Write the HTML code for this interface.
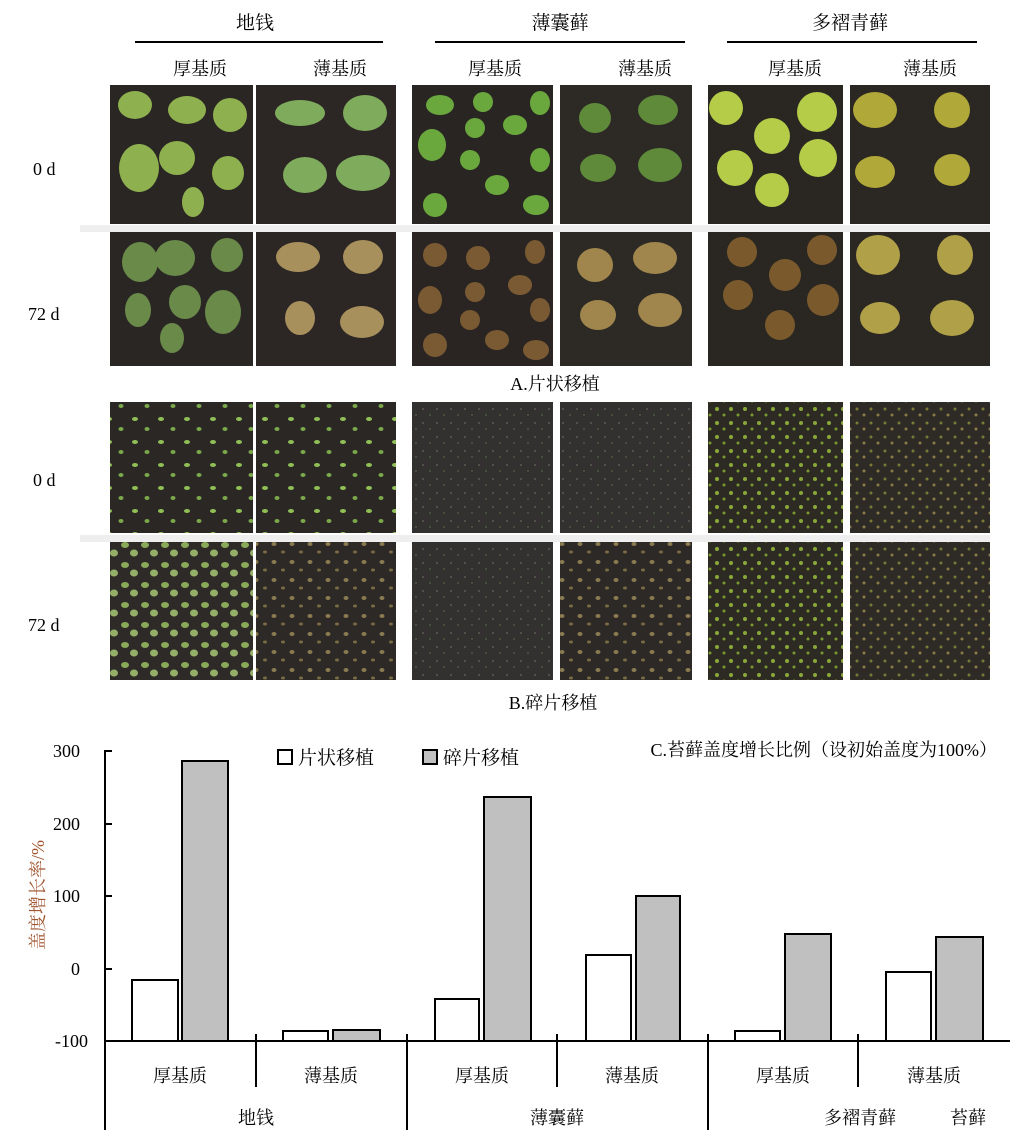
<!DOCTYPE html>
<html><head><meta charset="utf-8"><style>
body{margin:0;background:#fff;width:1030px;height:1141px;overflow:hidden;font-family:"Liberation Serif","Noto Serif CJK SC","Noto Sans CJK SC",serif;}
</style></head><body>
<svg width="1030" height="1141" viewBox="0 0 1030 1141" xmlns="http://www.w3.org/2000/svg" font-family="Liberation Serif, Noto Serif CJK SC, Noto Sans CJK SC, serif">
<defs>
<pattern id="fg" width="26" height="23" patternUnits="userSpaceOnUse">
<rect width="26" height="23" fill="#2b2725"/>
<ellipse cx="5" cy="5" rx="3" ry="2" fill="#8fbf55"/><ellipse cx="17" cy="15" rx="2.5" ry="2" fill="#7aa84a"/></pattern>
<pattern id="fg2" width="20" height="20" patternUnits="userSpaceOnUse">
<rect width="20" height="20" fill="#2e2a28"/>
<ellipse cx="5" cy="5" rx="4" ry="3" fill="#8aaa5a"/><ellipse cx="14" cy="13" rx="4" ry="3.5" fill="#94b068"/></pattern>
<pattern id="fb" width="18" height="18" patternUnits="userSpaceOnUse">
<rect width="18" height="18" fill="#2d2926"/>
<ellipse cx="4" cy="4" rx="2.5" ry="2" fill="#8a7a50"/><ellipse cx="13" cy="12" rx="2" ry="1.5" fill="#7a6a44"/></pattern>
<pattern id="fs" width="14" height="14" patternUnits="userSpaceOnUse">
<rect width="14" height="14" fill="#333030"/>
<circle cx="3" cy="3" r="1" fill="#5a5a55"/><circle cx="10" cy="9" r="1" fill="#4a5a40"/></pattern>
<pattern id="fy" width="14" height="14" patternUnits="userSpaceOnUse">
<rect width="14" height="14" fill="#2c2a22"/>
<circle cx="3" cy="3" r="2" fill="#8aa83a"/><circle cx="10" cy="9" r="1.5" fill="#7a9a30"/></pattern>
<pattern id="fy2" width="14" height="14" patternUnits="userSpaceOnUse">
<rect width="14" height="14" fill="#2e2a26"/>
<circle cx="3" cy="3" r="1.5" fill="#7a7a38"/><circle cx="10" cy="9" r="1.5" fill="#8a7a48"/></pattern>
</defs>
<g font-size="19" text-anchor="middle" fill="#000">
<text x="255" y="29">地钱</text><text x="560" y="29">薄囊藓</text><text x="850" y="29">多褶青藓</text>
</g>
<g stroke="#000" stroke-width="2"><line x1="135" y1="42" x2="383" y2="42"/><line x1="435" y1="42" x2="685" y2="42"/><line x1="727" y1="42" x2="977" y2="42"/></g>
<g font-size="18" text-anchor="middle">
<text x="200" y="75">厚基质</text><text x="340" y="75">薄基质</text><text x="495" y="75">厚基质</text><text x="645" y="75">薄基质</text><text x="795" y="75">厚基质</text><text x="930" y="75">薄基质</text>
</g>
<rect x="80" y="225" width="910" height="7" fill="#eeeeee"/>
<rect x="80" y="535" width="910" height="7" fill="#eeeeee"/>
<g>
<rect x="110" y="85" width="143" height="139" fill="#2a2624"/>
<g fill="#8fb04e"><ellipse cx="135" cy="105" rx="17" ry="14"/><ellipse cx="187" cy="110" rx="19" ry="14"/><ellipse cx="230" cy="115" rx="17" ry="17"/><ellipse cx="139" cy="168" rx="20" ry="24"/><ellipse cx="177" cy="158" rx="18" ry="17"/><ellipse cx="228" cy="173" rx="16" ry="17"/><ellipse cx="193" cy="202" rx="11" ry="15"/></g>
<rect x="256" y="85" width="140" height="139" fill="#2c2724"/>
<g fill="#7fac5c"><ellipse cx="300" cy="113" rx="25" ry="13"/><ellipse cx="365" cy="113" rx="22" ry="18"/><ellipse cx="305" cy="175" rx="22" ry="18"/><ellipse cx="363" cy="173" rx="27" ry="18"/></g>
<rect x="412" y="85" width="141" height="139" fill="#292522"/>
<g fill="#6aa83e"><ellipse cx="440" cy="105" rx="14" ry="10"/><ellipse cx="483" cy="102" rx="10" ry="10"/><ellipse cx="540" cy="103" rx="10" ry="12"/><ellipse cx="432" cy="145" rx="14" ry="16"/><ellipse cx="475" cy="128" rx="10" ry="10"/><ellipse cx="515" cy="125" rx="12" ry="10"/><ellipse cx="470" cy="160" rx="10" ry="10"/><ellipse cx="540" cy="160" rx="10" ry="12"/><ellipse cx="435" cy="205" rx="12" ry="12"/><ellipse cx="497" cy="185" rx="12" ry="10"/><ellipse cx="536" cy="205" rx="13" ry="10"/></g>
<rect x="560" y="85" width="132" height="139" fill="#2d2a26"/>
<g fill="#5e8a3a"><ellipse cx="595" cy="118" rx="16" ry="15"/><ellipse cx="658" cy="110" rx="20" ry="15"/><ellipse cx="598" cy="168" rx="18" ry="14"/><ellipse cx="660" cy="165" rx="22" ry="17"/></g>
<rect x="708" y="85" width="135" height="139" fill="#2a2622"/>
<g fill="#b4cc48"><circle cx="726" cy="108" r="17"/><circle cx="772" cy="136" r="18"/><circle cx="817" cy="112" r="20"/><circle cx="735" cy="168" r="18"/><circle cx="818" cy="158" r="19"/><circle cx="772" cy="190" r="17"/></g>
<rect x="850" y="85" width="140" height="139" fill="#2b2722"/>
<g fill="#b0a838"><ellipse cx="875" cy="110" rx="22" ry="18"/><ellipse cx="952" cy="110" rx="18" ry="18"/><ellipse cx="875" cy="172" rx="20" ry="16"/><ellipse cx="952" cy="170" rx="18" ry="16"/></g>
</g>
<g>
<rect x="110" y="232" width="143" height="134" fill="#2a2624"/>
<g fill="#6a8a4a"><ellipse cx="140" cy="262" rx="18" ry="20"/><ellipse cx="175" cy="258" rx="20" ry="18"/><ellipse cx="227" cy="255" rx="16" ry="17"/><ellipse cx="138" cy="310" rx="13" ry="17"/><ellipse cx="185" cy="302" rx="16" ry="17"/><ellipse cx="223" cy="312" rx="18" ry="22"/><ellipse cx="172" cy="338" rx="12" ry="15"/></g>
<rect x="256" y="232" width="140" height="134" fill="#2c2724"/>
<g fill="#a8905c"><ellipse cx="298" cy="257" rx="22" ry="15"/><ellipse cx="363" cy="257" rx="20" ry="17"/><ellipse cx="300" cy="318" rx="15" ry="17"/><ellipse cx="362" cy="322" rx="22" ry="16"/></g>
<rect x="412" y="232" width="141" height="134" fill="#2a2522"/>
<g fill="#7a5a32"><ellipse cx="435" cy="255" rx="12" ry="12"/><ellipse cx="478" cy="258" rx="12" ry="12"/><ellipse cx="535" cy="252" rx="10" ry="12"/><ellipse cx="430" cy="300" rx="12" ry="14"/><ellipse cx="475" cy="292" rx="10" ry="10"/><ellipse cx="520" cy="285" rx="12" ry="10"/><ellipse cx="470" cy="320" rx="10" ry="10"/><ellipse cx="540" cy="310" rx="10" ry="12"/><ellipse cx="435" cy="345" rx="12" ry="12"/><ellipse cx="497" cy="340" rx="12" ry="10"/><ellipse cx="536" cy="350" rx="13" ry="10"/></g>
<rect x="560" y="232" width="132" height="134" fill="#2d2a26"/>
<g fill="#a0864c"><ellipse cx="595" cy="265" rx="18" ry="17"/><ellipse cx="655" cy="258" rx="22" ry="16"/><ellipse cx="598" cy="315" rx="18" ry="15"/><ellipse cx="660" cy="310" rx="22" ry="17"/></g>
<rect x="708" y="232" width="135" height="134" fill="#2a2622"/>
<g fill="#7a5a2c"><circle cx="742" cy="252" r="15"/><circle cx="785" cy="275" r="16"/><circle cx="822" cy="250" r="15"/><circle cx="738" cy="295" r="15"/><circle cx="823" cy="300" r="16"/><circle cx="780" cy="325" r="15"/></g>
<rect x="850" y="232" width="140" height="134" fill="#2b2722"/>
<g fill="#b0a048"><ellipse cx="878" cy="255" rx="22" ry="20"/><ellipse cx="955" cy="255" rx="18" ry="20"/><ellipse cx="880" cy="318" rx="20" ry="16"/><ellipse cx="952" cy="318" rx="22" ry="18"/></g>
</g>
<text x="555" y="390" font-size="18" text-anchor="middle">A.片状移植</text>
<rect x="110" y="402" width="143" height="131" fill="url(#fg)"/>
<rect x="256" y="402" width="140" height="131" fill="url(#fg)"/>
<rect x="412" y="402" width="141" height="131" fill="url(#fs)"/>
<rect x="560" y="402" width="132" height="131" fill="url(#fs)"/>
<rect x="708" y="402" width="135" height="131" fill="url(#fy)"/>
<rect x="850" y="402" width="140" height="131" fill="url(#fy2)"/>
<rect x="110" y="542" width="143" height="138" fill="url(#fg2)"/>
<rect x="256" y="542" width="140" height="138" fill="url(#fb)"/>
<rect x="412" y="542" width="141" height="138" fill="url(#fs)"/>
<rect x="560" y="542" width="132" height="138" fill="url(#fb)"/>
<rect x="708" y="542" width="135" height="138" fill="url(#fy)"/>
<rect x="850" y="542" width="140" height="138" fill="url(#fy2)"/>
<g font-size="18">
<text x="33" y="175">0 d</text><text x="28" y="320">72 d</text><text x="33" y="486">0 d</text><text x="28" y="631">72 d</text>
</g>
<text x="553" y="709" font-size="18" text-anchor="middle">B.碎片移植</text>
<g stroke="#000" stroke-width="2" fill="none">
<line x1="105" y1="750" x2="105" y2="1130"/>
<line x1="105" y1="1041" x2="1010" y2="1041"/>
<line x1="105" y1="751" x2="112" y2="751"/><line x1="105" y1="824" x2="112" y2="824"/><line x1="105" y1="896" x2="112" y2="896"/><line x1="105" y1="969" x2="112" y2="969"/>
<line x1="256" y1="1034" x2="256" y2="1087"/><line x1="407" y1="1034" x2="407" y2="1130"/><line x1="557" y1="1034" x2="557" y2="1087"/><line x1="708" y1="1034" x2="708" y2="1130"/><line x1="858" y1="1034" x2="858" y2="1087"/>
</g>
<g stroke="#000" stroke-width="2">
<rect x="132" y="980" width="46" height="61" fill="#fff"/><rect x="182" y="761" width="46" height="280" fill="#c0c0c0"/>
<rect x="283" y="1031" width="45" height="10" fill="#fff"/><rect x="333" y="1030" width="47" height="11" fill="#c0c0c0"/>
<rect x="435" y="999" width="44" height="42" fill="#fff"/><rect x="484" y="797" width="47" height="244" fill="#c0c0c0"/>
<rect x="586" y="955" width="45" height="86" fill="#fff"/><rect x="636" y="896" width="44" height="145" fill="#c0c0c0"/>
<rect x="735" y="1031" width="45" height="10" fill="#fff"/><rect x="785" y="934" width="46" height="107" fill="#c0c0c0"/>
<rect x="886" y="972" width="45" height="69" fill="#fff"/><rect x="936" y="937" width="47" height="104" fill="#c0c0c0"/>
<rect x="278" y="750" width="14" height="14" fill="#fff"/><rect x="423" y="750" width="14" height="14" fill="#c0c0c0"/>
</g>
<g font-size="18" text-anchor="end">
<text x="80" y="757">300</text><text x="80" y="830">200</text><text x="80" y="902">100</text><text x="80" y="975">0</text><text x="88" y="1047">-100</text>
</g>
<g font-size="19">
<text x="298" y="764">片状移植</text><text x="443" y="764">碎片移植</text>
</g>
<text x="997" y="756" font-size="18" text-anchor="end">C.苔藓盖度增长比例（设初始盖度为100%）</text>
<text transform="translate(44,895) rotate(-90)" font-size="18" text-anchor="middle" fill="#a0522d">盖度增长率/%</text>
<g font-size="18" text-anchor="middle">
<text x="180" y="1082">厚基质</text><text x="331" y="1082">薄基质</text><text x="482" y="1082">厚基质</text><text x="632" y="1082">薄基质</text><text x="783" y="1082">厚基质</text><text x="934" y="1082">薄基质</text>
<text x="256" y="1124">地钱</text><text x="557" y="1124">薄囊藓</text><text x="860" y="1124">多褶青藓</text><text x="968" y="1124">苔藓</text>
</g>
</svg>
</body></html>
